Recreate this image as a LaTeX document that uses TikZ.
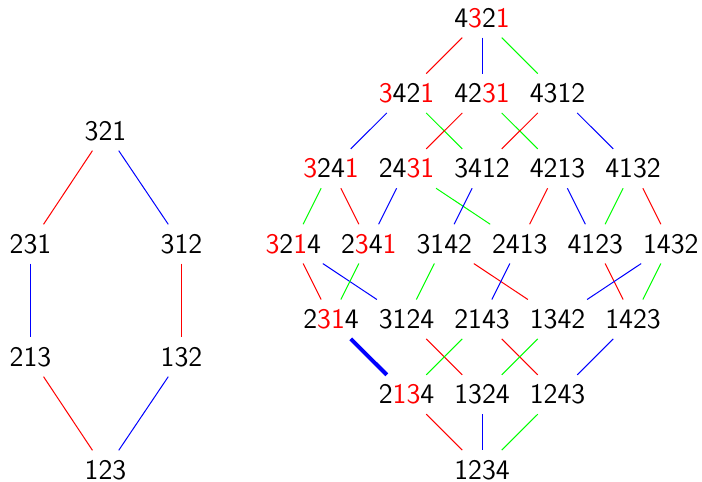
\documentclass[tikz,border=0pt]{standalone}
\newcommand\Rd[1]{\textcolor{red}{#1}}
\begin{document}
\begin{tikzpicture}[x=0.5pt,y=-0.5pt,
  perm/.style={inner sep=4.7pt, font=\sffamily\fontsize{14.15pt}{17pt}\selectfont},
  e/.style={line width=0.5pt},
  R/.style={e,red}, B/.style={e,blue}, G/.style={e,green},
  thickB/.style={line width=2pt,blue}]
\useasboundingbox (0,0) rectangle (702,482);
% left: S3
\node[perm] (a321) at (105.5,131) {321};
\node[perm] (a231) at (30.5,244) {231};
\node[perm] (a312) at (181.5,244) {312};
\node[perm] (a213) at (30.5,357) {213};
\node[perm] (a132) at (181.5,357) {132};
\node[perm] (a123) at (105.5,470) {123};
\draw[R] (a321) -- (a231);
\draw[B] (a321) -- (a312);
\draw[B] (a231) -- (a213);
\draw[R] (a312) -- (a132);
\draw[R] (a213) -- (a123);
\draw[B] (a132) -- (a123);
% right: S4
\node[perm] (p4321) at (482,18) {4\Rd{3}2\Rd{1}};
\node[perm] (p3421) at (406.5,93.3) {\Rd{3}42\Rd{1}};
\node[perm] (p4231) at (482,93.3) {42\Rd{31}};
\node[perm] (p4312) at (557.5,93.3) {4312};
\node[perm] (p3241) at (331,168.6) {\Rd{3}24\Rd{1}};
\node[perm] (p2431) at (406.5,168.6) {24\Rd{31}};
\node[perm] (p3412) at (482,168.6) {3412};
\node[perm] (p4213) at (557.5,168.6) {4213};
\node[perm] (p4132) at (633,168.6) {4132};
\node[perm] (p3214) at (293.25,243.9) {\Rd{3}2\Rd{1}4};
\node[perm] (p2341) at (368.75,243.9) {2\Rd{3}4\Rd{1}};
\node[perm] (p3142) at (444.25,243.9) {3142};
\node[perm] (p2413) at (519.75,243.9) {2413};
\node[perm] (p4123) at (595.25,243.9) {4123};
\node[perm] (p1432) at (670.75,243.9) {1432};
\node[perm] (p2314) at (331,319.2) {2\Rd{31}4};
\node[perm] (p3124) at (406.5,319.2) {3124};
\node[perm] (p2143) at (482,319.2) {2143};
\node[perm] (p1342) at (557.5,319.2) {1342};
\node[perm] (p1423) at (633,319.2) {1423};
\node[perm] (p2134) at (406.5,394.5) {2\Rd{13}4};
\node[perm] (p1324) at (482,394.5) {1324};
\node[perm] (p1243) at (557.5,394.5) {1243};
\node[perm] (p1234) at (482,469.8) {1234};
% row 0-1
\draw[R] (p4321) -- (p3421);
\draw[B] (p4321) -- (p4231);
\draw[G] (p4321) -- (p4312);
% row 1-2
\draw[B] (p3421) -- (p3241);
\draw[G] (p3421) -- (p3412);
\draw[R] (p4231) -- (p2431);
\draw[G] (p4231) -- (p4213);
\draw[R] (p4312) -- (p3412);
\draw[B] (p4312) -- (p4132);
% row 2-3
\draw[G] (p3241) -- (p3214);
\draw[R] (p3241) -- (p2341);
\draw[B] (p2431) -- (p2341);
\draw[G] (p2431) -- (p2413);
\draw[B] (p3412) -- (p3142);
\draw[R] (p4213) -- (p2413);
\draw[B] (p4213) -- (p4123);
\draw[G] (p4132) -- (p4123);
\draw[R] (p4132) -- (p1432);
% row 3-4
\draw[R] (p3214) -- (p2314);
\draw[B] (p3214) -- (p3124);
\draw[G] (p2341) -- (p2314);
\draw[G] (p3142) -- (p3124);
\draw[R] (p3142) -- (p1342);
\draw[B] (p2413) -- (p2143);
\draw[R] (p4123) -- (p1423);
\draw[B] (p1432) -- (p1342);
\draw[G] (p1432) -- (p1423);
% row 4-5
\draw[thickB] (p2314) -- (p2134);
\draw[R] (p3124) -- (p1324);
\draw[G] (p2143) -- (p2134);
\draw[R] (p2143) -- (p1243);
\draw[G] (p1342) -- (p1324);
\draw[B] (p1423) -- (p1243);
% row 5-6
\draw[R] (p2134) -- (p1234);
\draw[B] (p1324) -- (p1234);
\draw[G] (p1243) -- (p1234);
\end{tikzpicture}
\end{document}
